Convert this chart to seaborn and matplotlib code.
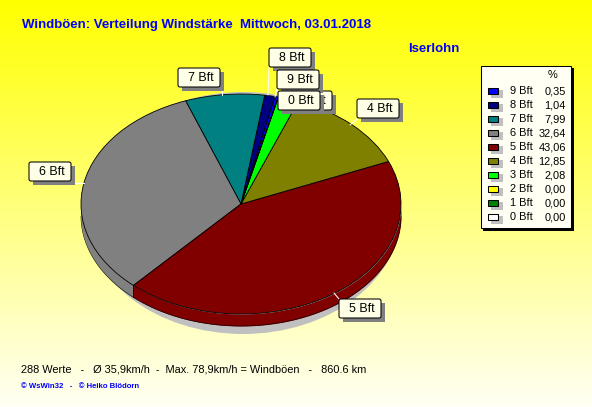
import numpy as np
import matplotlib
matplotlib.use("Agg")
import matplotlib.pyplot as plt
from matplotlib.patches import Ellipse, FancyBboxPatch, Rectangle
import seaborn as sns

# legend order, also the counter clockwise order of the slices
labels = ["9 Bft", "8 Bft", "7 Bft", "6 Bft", "5 Bft", "4 Bft", "3 Bft", "2 Bft", "1 Bft", "0 Bft"]
percent = [0.35, 1.04, 7.99, 32.64, 43.06, 12.85, 2.08, 0.00, 0.00, 0.00]
percent_text = ["0,35", "1,04", "7,99", "32,64", "43,06", "12,85", "2,08", "0,00", "0,00", "0,00"]
colors = ["#0000ff", "#000080", "#008080", "#808080", "#800000", "#808000", "#00ff00", "#ffff00", "#008000", "#ffffff"]

title = "Windböen: Verteilung Windstärke  Mittwoch, 03.01.2018"
station = "Iserlohn"
footer = "288 Werte   -   Ø 35,9km/h  -  Max. 78,9km/h = Windböen   -   860.6 km"
credit = "© WsWin32   -   © Heiko Blödorn"

# pixel layout of the callouts: left, top, leader line
callouts = [
    ("3 Bft", 290, 91, None),
    ("7 Bft", 178, 68, ((222, 87), (222, 95))),
    ("6 Bft", 29, 162, ((72, 183), (84, 183))),
    ("4 Bft", 357, 99, ((357, 119), (350, 125))),
    ("5 Bft", 339, 299, ((334, 293), (339, 299))),
    ("8 Bft", 269, 48, ((269, 67), (268, 95))),
    ("9 Bft", 277, 70, ((277, 89), (275, 97))),
    ("0 Bft", 278, 91, None),
]

W, H = 592, 407
CX, CY, RX, RY = 241, 204, 160, 110
DEPTH = 12 / RY
START = 76.5

sns.set_theme(style="white")
plt.rcParams["font.family"] = ["Liberation Sans", "DejaVu Sans"]
palette = sns.color_palette(colors)

fig = plt.figure(figsize=(W / 100, H / 100), dpi=100)

bg = fig.add_axes([0, 0, 1, 1], zorder=0)
bg.imshow(np.linspace(0, 1, 256).reshape(-1, 1), aspect="auto", extent=(0, 1, 0, 1),
          cmap=matplotlib.colors.LinearSegmentedColormap.from_list("bg", ["#ffff00", "#fffff4"]))
bg.axis("off")

# the pie axes fills the figure, one unit is one radius so the circle comes out elliptic
ax = fig.add_axes([0, 0, 1, 1], zorder=1)
wedges, _ = ax.pie(percent, colors=palette, startangle=START, counterclock=True,
                   wedgeprops=dict(edgecolor="black", linewidth=0.6))
ax.set_aspect("auto")
ax.set_xlim(-CX / RX, (W - CX) / RX)
ax.set_ylim((CY - H) / RY, CY / RY)
ax.axis("off")

ax.add_patch(Ellipse((2 / RX, -9 / RY), 2 * 158 / RX, 2 * 121 / RY, fc="#c0c0c0", ec="none", zorder=0))

# side wall of the slices on the front half
edges = START + np.cumsum([0] + percent) * 3.6
for i in range(len(percent)):
    lo, hi = edges[i], edges[i + 1]
    for shift in (0, 360):
        a, b = max(lo, 180 + shift), min(hi, 360 + shift)
        if b <= a:
            continue
        t = np.radians(np.linspace(a, b, 120))
        ax.fill_between(np.cos(t), np.sin(t) - DEPTH, np.sin(t), color=palette[i], lw=0, zorder=0.5)
        ax.plot(np.cos(t), np.sin(t) - DEPTH, color="black", lw=0.4, zorder=0.6)
seam = np.radians(edges[4])
ax.plot([np.cos(seam)] * 2, [np.sin(seam), np.sin(seam) - DEPTH], color="black", lw=0.6, zorder=0.6)

# overlay in reference pixels for the texts, callouts and legend
ov = fig.add_axes([0, 0, 1, 1], zorder=2)
ov.set_xlim(0, W)
ov.set_ylim(H, 0)
ov.axis("off")
ov.patch.set_alpha(0)

ov.text(22, 25, title, color="#0000ff", fontsize=9.5, fontweight="bold", va="center")
ov.text(408, 49, station, color="#0000ff", fontsize=9.5, fontweight="bold", va="center")
ov.text(21, 369, footer, color="black", fontsize=7.9, va="center")
ov.text(21, 386, credit, color="#0000ff", fontsize=5.6, fontweight="bold", va="center")

for n, (text, x, y, leader) in enumerate(callouts):
    z = 3 + n
    if leader:
        ov.plot(*zip(*leader), color="white", lw=0.75, zorder=2)
    ov.add_patch(Rectangle((x + 4, y + 4), 42, 19, fc="#808080", ec="none", zorder=z))
    ov.add_patch(FancyBboxPatch((x + 1, y + 1), 40, 17, boxstyle="round,pad=1,rounding_size=2",
                                fc="#ffffe8", ec="black", lw=0.75, zorder=z))
    ov.text(x + 23, y + 10, text, color="black", fontsize=8.9, ha="center", va="center", zorder=z)

# legend box
ov.add_patch(Rectangle((483, 68), 91, 163, fc="black", ec="none", zorder=20))
ov.add_patch(Rectangle((480.5, 65.5), 90, 162, fc="#fffff4", ec="black", lw=0.75, zorder=21))
ov.text(553, 75, "%", color="black", fontsize=7.9, ha="center", va="center", zorder=22)
for i, (name, value) in enumerate(zip(labels, percent_text)):
    y = 91 + 14 * i
    ov.add_patch(Rectangle((491, y - 1), 12, 8, fc="#c0c0c0", ec="none", zorder=22))
    ov.add_patch(Rectangle((487.5, y - 3.5), 10.5, 6.5, fc=palette[i], ec="black", lw=0.75, zorder=23))
    ov.text(510, y, name, color="black", fontsize=7.9, va="center", zorder=24)
    ov.text(566, y, value, color="black", fontsize=7.9, ha="right", va="center", zorder=24)

fig.savefig("out.png", dpi=100)
